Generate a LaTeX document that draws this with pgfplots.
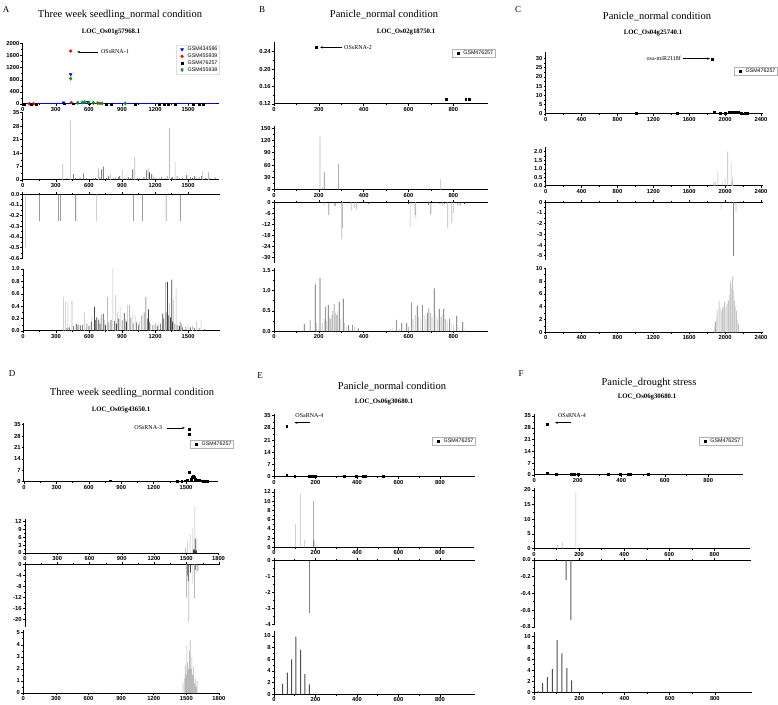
\documentclass[border=0pt]{standalone}
\usepackage{fontspec}
\setmainfont{Liberation Serif}
\setsansfont{Liberation Sans}
\usepackage{pgfplots}
\pgfplotsset{compat=1.18}
\usetikzlibrary{arrows.meta}
\newcommand{\tickfont}{\sffamily\bfseries\fontsize{5.8}{6.5}\selectfont}
\newcommand{\annfont}{\rmfamily\fontsize{6}{7}\selectfont}
\newcommand{\titfont}{\rmfamily\fontsize{10.5}{12}\selectfont}
\newcommand{\subfont}{\rmfamily\bfseries\fontsize{6.8}{8}\selectfont}
\newcommand{\letfont}{\rmfamily\fontsize{9}{10}\selectfont}
\tikzset{arr/.style={-{Stealth[length=3pt,width=2.2pt]}, line width=0.5pt}}
\pgfplotsset{
  org/.style={scale only axis, anchor=south west, clip=false,
    axis line style={line width=1pt},
    tick style={black, line width=0.5pt},
    major tick length=2.2pt, minor tick length=1.3pt, tick align=outside,
    minor x tick num=1, minor y tick num=1,
    tick label style={font=\tickfont, inner sep=1pt},
    /pgf/number format/assume math mode=true,
    /pgf/number format/1000 sep={},
    xticklabel={\pgfmathprintnumber[assume math mode=true]{\tick}},
    yticklabel={\pgfmathprintnumber[assume math mode=true]{\tick}},
    xmin=0},
  bot/.style={org, axis x line*=bottom, axis y line*=left},
  topx/.style={org, axis x line*=top, axis y line*=left, xticklabels={}},
  fixA/.style={yticklabel style={/pgf/number format/.cd, fixed, fixed zerofill, precision=#1}},
  lg/.style={ybar, bar width=0.6pt, bar shift=0pt, draw=none, fill=gray!55},
  dk/.style={ybar, bar width=0.6pt, bar shift=0pt, draw=none, fill=black!75},
  sq/.style={only marks, mark=square*, mark size=0.95pt, black},
  leg/.style={legend style={font=\sffamily\fontsize{5.3}{6}\selectfont, draw=gray!60, line width=0.4pt, inner sep=0.8pt, outer sep=0pt, legend cell align=left, nodes={inner sep=0.8pt}, at={#1}, anchor=north east}, legend image code/.code={\path (0cm,0cm) (0.32cm,0cm); \draw[##1] plot coordinates {(0.16cm,0cm)};}},
}
\begin{document}
\begin{tikzpicture}
\path[use as bounding box] (0pt,0pt) rectangle (778pt,704pt);
% ---------- titles
\node[font=\letfont] at (6pt,694pt) {A};
\node[font=\titfont] at (120pt,689pt) {Three week seedling\_normal condition};
\node[font=\subfont] at (111pt,672pt) {LOC\_Os01g57968.1};
\node[font=\letfont] at (262pt,694pt) {B};
\node[font=\titfont] at (384pt,689pt) {Panicle\_normal condition};
\node[font=\subfont] at (406pt,672pt) {LOC\_Os02g18750.1};
\node[font=\letfont] at (518pt,694pt) {C};
\node[font=\titfont] at (657pt,687pt) {Panicle\_normal condition};
\node[font=\subfont] at (653pt,671pt) {LOC\_Os04g25740.1};
\node[font=\letfont] at (12pt,330pt) {D};
\node[font=\titfont] at (132pt,311pt) {Three week seedling\_normal condition};
\node[font=\subfont] at (121pt,294pt) {LOC\_Os05g43650.1};
\node[font=\letfont] at (260pt,328pt) {E};
\node[font=\titfont] at (392pt,317pt) {Panicle\_normal condition};
\node[font=\subfont] at (384pt,302pt) {LOC\_Os06g30680.1};
\node[font=\letfont] at (521pt,330pt) {F};
\node[font=\titfont] at (649pt,321pt) {Panicle\_drought stress};
\node[font=\subfont] at (647pt,307pt) {LOC\_Os06g30680.1};

% ================= PANEL A
\begin{axis}[bot, at={(22.7pt,600pt)}, width=196.3pt, height=60.5pt, xmax=1780, ymin=0, ymax=2000,
  xtick={0,300,...,1500}, ytick={0,400,...,2000}, leg={(1.0,0.97)}, legend style={draw=gray!25}]
\addplot[blue, line width=1.2pt, forget plot] coordinates {(0,8)(1750,8)};
\addplot[only marks, mark=triangle*, mark options={rotate=180}, blue, mark size=1.7pt] coordinates {(370,40)(435,980)(590,60)};
\addplot[only marks, mark=*, red, mark size=1.4pt] coordinates {(60,10)(100,10)(435,1750)(440,50)(640,30)(700,20)};
\addplot[sq] coordinates {(10,5)(80,5)(120,5)(380,10)(460,10)(600,10)(760,5)(800,5)(1020,5)(1240,5)(1280,5)(1320,5)(1380,5)(1550,5)(1600,5)(1640,5)};
\addplot[only marks, mark=diamond*, green!60!black, mark size=1.7pt] coordinates {(435,840)(500,40)(540,50)(560,60)(600,50)(640,40)(680,30)(720,20)(930,20)};
\legend{GSM434596,GSM455939,GSM476257,GSM455938}
\draw[arr] (axis cs:683,1720) -- (axis cs:493,1720);
\node[anchor=west, font=\annfont, inner sep=1pt] at (axis cs:700,1720) {OSsRNA-1};
\end{axis}
\begin{axis}[bot, at={(22.7pt,524pt)}, width=196.3pt, height=67.3pt, xmax=1780, ymin=0, ymax=35,
  xtick={0,300,...,1500}, ytick={0,7,...,35}]
\addplot[lg] coordinates {(363,8.4)(435,31)(687,6)(798,3)(904,5.5)(944,2.5)(1016,12)(1140,6)(1331,27)(1382,9.5)(1633,4.5)(1685,4)};
\addplot[dk] coordinates {(460,3)(550,3.5)(717,5.5)(732,7)(868,1.5)(998,5.5)(1125,5)(1170,3)(1488,2.5)(1745,1.5)(400,1)(480,1)(500,0.8)(520,1.2)(580,1)(600,0.6)(640,0.8)(660,1)(700,1.5)(760,1)(780,2)(820,1)(840,1.2)(880,2)(920,1)(960,1.5)(980,1)(1040,1.2)(1060,0.8)(1100,1.5)(1150,4)(1190,1.5)(1210,1)(1240,0.8)(1260,1.5)(1290,1)(1310,2)(1350,1)(1360,1.5)(1400,2)(1420,1)(1450,1)(1520,1.5)(1540,1)(1560,2)(1580,1.2)(1600,1.5)(1620,2)(1660,1)(1700,1)};
\end{axis}
\begin{axis}[topx, at={(22.7pt,445.7pt)}, width=197.3pt, height=64pt, xmax=1790, ymin=-0.6, ymax=0,
  xtick={0,300,...,1500}, ytick={-0.6,-0.5,-0.4,-0.3,-0.2,-0.1,0}, fixA=1]
\addplot[lg] coordinates {(27,-0.5)(671,-0.25)};
\addplot[dk, fill=black!60] coordinates {(151,-0.25)(324,-0.25)(342,-0.25)(481,-0.25)(1004,-0.25)(1086,-0.25)(1301,-0.25)(1431,-0.25)};
\end{axis}
\begin{axis}[bot, at={(23pt,373pt)}, width=197pt, height=62pt, xmax=1790, ymin=0, ymax=1.0,
  xtick={0,300,...,1500}, ytick={0,0.2,0.4,0.6,0.8,1.0}, fixA=1]
\addplot[lg] coordinates {(369,0.55)(387,0.47)(408,0.46)(445,0.49)(560,0.3)(626,0.24)(768,0.55)(817,1.0)(841,0.58)(883,0.39)(950,0.42)(968,0.42)(998,0.27)(1019,0.25)(1295,0.79)(1391,0.68)(1579,0.15)(1618,0.17)(700,0.2)(740,0.18)(860,0.3)(930,0.2)(1060,0.15)(1160,0.12)(1230,0.12)(1330,0.45)(1365,0.5)(1440,0.12)(1500,0.1)(1540,0.08)};
\addplot[dk] coordinates {(484,0.12)(650,0.39)(687,0.18)(717,0.27)(732,0.28)(920,0.29)(1116,0.55)(1140,0.35)(1200,0.12)(1270,0.28)(1313,0.79)(1352,0.83)(1428,0.15)(400,0.05)(420,0.06)(460,0.08)(500,0.1)(520,0.09)(540,0.1)(580,0.12)(600,0.08)(620,0.15)(660,0.18)(670,0.22)(700,0.12)(750,0.1)(780,0.14)(800,0.18)(830,0.16)(850,0.12)(870,0.2)(900,0.17)(940,0.15)(980,0.22)(1000,0.12)(1030,0.14)(1050,0.1)(1080,0.25)(1100,0.3)(1130,0.2)(1150,0.15)(1180,0.1)(1220,0.08)(1250,0.12)(1280,0.2)(1300,0.3)(1320,0.25)(1340,0.22)(1360,0.15)(1380,0.12)(1400,0.1)(1420,0.08)(1450,0.06)(1480,0.07)(1520,0.06)(1560,0.05)(1600,0.05)(1650,0.03)};
\end{axis}

% ================= PANEL B
\begin{axis}[bot, at={(274pt,600pt)}, width=214.3pt, height=62.3pt, xmax=956, ymin=0.12, ymax=0.263,
  xtick={0,200,...,800}, ytick={0.12,0.16,0.20,0.24}, fixA=2, leg={(1.03,0.883)}]
\addplot[sq] coordinates {(190,0.25)(770,0.13)(855,0.13)(870,0.13)};
\legend{GSM476257}
\draw[arr] (axis cs:303,0.25) -- (axis cs:205,0.25);
\node[anchor=west, font=\annfont, inner sep=1pt] at (axis cs:308,0.25) {OSsRNA-2};
\end{axis}
\begin{axis}[bot, at={(274pt,514.3pt)}, width=214.3pt, height=63.7pt, xmax=956, ymin=0, ymax=155,
  xtick={0,200,...,800}, ytick={0,30,...,150}]
\addplot[lg] coordinates {(205,130)(743,25)};
\addplot[dk, fill=gray] coordinates {(224,42)(287,62)(215,5)(295,3)};
\end{axis}
\begin{axis}[topx, at={(274pt,441pt)}, width=214.3pt, height=60.7pt, xmax=956, ymin=-32.9, ymax=0,
  xtick={0,200,...,800}, ytick={-30,-24,...,0}]
\addplot[lg] coordinates {(223,-2)(302,-20)(306,-14)(346,-4.5)(358,-3)(369,-4)(607,-13.5)(629,-7)(633,-9)(752,-2)(775,-14)(793,-11)(800,-6)};
\addplot[dk] coordinates {(245,-7)(272,-2)(421,-1)(700,-6.5)(830,-2)(600,-1)(690,-1.5)(740,-1)(760,-1)(820,-1.5)(850,-0.8)(510,-0.5)(160,-0.5)};
\end{axis}
\begin{axis}[bot, at={(274pt,372.7pt)}, width=214.3pt, height=63.3pt, xmax=956, ymin=0, ymax=1.55,
  xtick={0,200,...,800}, ytick={0,0.5,1.0,1.5}, fixA=1]
\addplot[dk, fill=black!65] coordinates {(135,0.18)(161,0.28)(184,1.15)(205,1.3)(230,0.6)(242,0.65)(254,0.3)(268,0.67)(281,0.4)(291,0.72)(309,0.8)(332,0.15)(351,0.15)(376,0.07)(547,0.28)(570,0.2)(592,0.2)(614,0.7)(639,0.63)(662,0.65)(684,0.45)(691,0.57)(715,1.05)(737,0.55)(757,0.55)(782,0.3)(815,0.38)(842,0.23)};
\addplot[lg] coordinates {(190,0.2)(215,0.2)(225,0.3)(235,0.25)(248,0.35)(258,0.4)(262,0.5)(275,0.45)(285,0.5)(298,0.3)(315,0.2)(325,0.1)(340,0.05)(360,0.1)(520,0.05)(530,0.08)(560,0.05)(600,0.1)(620,0.3)(630,0.4)(645,0.35)(655,0.3)(670,0.4)(678,0.3)(698,0.45)(705,0.35)(722,0.4)(730,0.3)(745,0.35)(750,0.4)(765,0.3)(772,0.25)(790,0.2)(800,0.15)(825,0.1)(855,0.05)};
\end{axis}

% ================= PANEL C
\begin{axis}[bot, at={(545.7pt,590pt)}, width=217.6pt, height=62.3pt, xmax=2426, ymin=0, ymax=33.5,
  xtick={0,400,...,2400}, ytick={0,5,...,30}, leg={(1.063,0.754)}]
\addplot[sq] coordinates {(1854,29.6)(1010,0.4)(1470,0.5)(1880,0.9)(1950,0.3)(2000,0.5)(2050,0.9)(2080,0.8)(2110,1.0)(2150,0.8)(2180,0.6)(2220,0.5)(2250,0.4)};
\legend{GSM476257}
\draw[arr] (axis cs:1530,29.8) -- (axis cs:1832,29.8);
\node[anchor=east, font=\annfont, inner sep=1pt] at (axis cs:1520,29.8) {osa-miR2118f};
\end{axis}
\begin{axis}[bot, at={(545.7pt,518pt)}, width=217.6pt, height=39.3pt, xmax=2426, ymin=0, ymax=2.29,
  xtick={0,400,...,2400}, ytick={0,0.5,1.0,1.5,2.0}, fixA=1]
\addplot[lg] coordinates {(1874,0.22)(1890,0.22)(1919,0.9)(1967,0.22)(2000,0.45)(2030,2.0)(2067,1.35)(2078,0.22)(2085,0.45)};
\end{axis}
\begin{axis}[topx, at={(545.7pt,444pt)}, width=217.6pt, height=57.7pt, xmax=2426, ymin=-5.4, ymax=0,
  xtick={0,400,...,2400}, ytick={-5,-4,...,0}]
\addplot[lg] coordinates {(1956,-0.7)(2048,-0.1)(2122,-0.9)};
\addplot[dk, fill=gray] coordinates {(2096,-5.0)};
\end{axis}
\begin{axis}[bot, at={(545.7pt,371.7pt)}, width=217.6pt, height=64pt, xmax=2426, ymin=0, ymax=10,
  xtick={0,400,...,2400}, ytick={0,2,...,10}]
\addplot[lg, fill=gray!70] coordinates {(1874,0.4)(1893,1.7)(1911,3.4)(1933,4.9)(1956,3.5)(1974,3.8)(1996,4.7)(2019,4.3)(2041,5.0)(2063,7.8)(2085,8.7)(2104,5.0)(2126,3.4)(2148,1.3)};
\addplot[dk, fill=gray!40] coordinates {(1884,1)(1902,2.5)(1922,3.8)(1944,4)(1965,3)(1985,4)(2008,4)(2030,4.5)(2052,6)(2074,7)(2095,6.5)(2115,4)(2137,2)};
\end{axis}

% ================= PANEL D
\begin{axis}[bot, at={(24pt,222.3pt)}, width=194.3pt, height=58.7pt, xmax=1799, ymin=0, ymax=36,
  xtick={0,300,...,1800}, ytick={0,7,...,35}, leg={(1.076,0.71)}]
\addplot[sq] coordinates {(1530,32)(1530,29)(1530,6)(800,0.6)(1420,0.5)(1460,0.5)(1490,0.6)(1510,1)(1550,1.5)(1560,3)(1565,3.5)(1570,2.8)(1575,2.5)(1580,2)(1585,1.8)(1590,1.5)(1600,1.2)(1610,1)(1620,0.8)(1640,0.6)(1660,0.5)(1680,0.5)(1700,0.5)};
\legend{GSM476257}
\draw[arr] (axis cs:1320,33) -- (axis cs:1490,33);
\node[anchor=east, font=\annfont, inner sep=1pt] at (axis cs:1290,33) {OSsRNA-3};
\end{axis}
\begin{axis}[bot, at={(25pt,151pt)}, width=193.5pt, height=34pt, xmax=1800, ymin=0, ymax=13,
  xtick={0,300,...,1800}, ytick={0,3,...,12}]
\addplot[lg] coordinates {(1493,1.8)(1511,4.7)(1536,7.3)(1561,9.5)(1580,18)(1599,5.2)};
\addplot[dk] coordinates {(1584,5.5)(1565,1)(1570,1.5)(1575,1.2)(1590,0.8)(1595,1)};
\end{axis}
\begin{axis}[topx, at={(25pt,77pt)}, width=195pt, height=62.7pt, xmax=1810, ymin=-22.8, ymax=0,
  xtick={0,300,...,1800}, ytick={-20,-16,...,0}]
\addplot[lg] coordinates {(1499,-12)(1520,-21)(1558,-7)(1573,-12.5)(1589,-3)};
\addplot[dk] coordinates {(1511,-4)(1536,-3)(1605,-2.5)(1515,-6)(1580,-2)};
\end{axis}
\begin{axis}[bot, at={(23.3pt,11pt)}, width=196.7pt, height=62.7pt, xmax=1810, ymin=0, ymax=5.2,
  xtick={0,300,...,1800}, ytick={0,1,...,5}]
\addplot[lg] coordinates {(1468,0.8)(1490,2.3)(1505,4.0)(1520,2.0)(1536,4.4)(1551,3.0)(1567,2.2)(1582,1.2)(1598,1.0)(1480,1.2)(1497,1.5)(1512,2.5)(1528,3.5)(1543,2)(1559,1.5)(1575,0.8)(1590,0.5)};
\end{axis}

% ================= PANEL E
\begin{axis}[bot, at={(274pt,227.3pt)}, width=201pt, height=62.7pt, xmax=969, ymin=0, ymax=36,
  xtick={0,200,...,800}, ytick={0,7,...,35}, leg={(1.0,0.633)}]
\addplot[sq] coordinates {(61,29)(61,1)(100,0.5)(170,0.5)(185,0.5)(200,0.5)(340,0.4)(395,0.4)(430,0.5)(440,0.5)(525,0.5)};
\legend{GSM476257}
\draw[arr] (axis cs:173,31) -- (axis cs:98,31);
\node[font=\annfont, inner sep=1pt] at (axis cs:171,35.4) {OSaRNA-4};
\end{axis}
\begin{axis}[bot, at={(274pt,156.7pt)}, width=200.3pt, height=58.3pt, xmax=965, ymin=0, ymax=12.6,
  xtick={0,200,...,800}, ytick={0,2,...,12}]
\addplot[lg] coordinates {(104,5)(128,11.6)(146,1.6)};
\addplot[dk, fill=gray] coordinates {(190,10)(193,1.5)};
\end{axis}
\begin{axis}[topx, at={(274pt,79pt)}, width=201pt, height=64.3pt, xmax=969, ymin=-4.05, ymax=0,
  xtick={0,200,...,800}, ytick={-4,-3,...,0}]
\addplot[lg, fill=gray] coordinates {(170,-3.3)};
\end{axis}
\begin{axis}[bot, at={(274pt,9.7pt)}, width=201pt, height=63.6pt, xmax=969, ymin=0, ymax=10.9,
  xtick={0,200,...,800}, ytick={0,2,...,10}]
\addplot[dk, fill=black!70, bar width=1pt] coordinates {(42,1.8)(64,3.7)(85,6.0)(106,9.9)(128,7.6)(149,3.5)(170,1.7)};
\end{axis}

% ================= PANEL F
\begin{axis}[bot, at={(534.3pt,229pt)}, width=209pt, height=60.7pt, xmax=961, ymin=0, ymax=36,
  xtick={0,200,...,800}, ytick={0,7,...,35}, leg={(0.993,0.623)}]
\addplot[sq] coordinates {(61,30)(61,1)(100,0.5)(170,0.5)(185,0.5)(200,0.5)(340,0.4)(395,0.4)(430,0.5)(440,0.5)(525,0.5)};
\legend{GSM476257}
\draw[arr] (axis cs:169,31) -- (axis cs:95,31);
\node[font=\annfont, inner sep=1pt] at (axis cs:173,35.4) {OSsRNA-4};
\end{axis}
\begin{axis}[bot, at={(534pt,155.3pt)}, width=216pt, height=60.8pt, xmax=958, ymin=0, ymax=20.7,
  xtick={0,200,...,800}, ytick={0,5,...,20}]
\addplot[lg] coordinates {(105,1.2)(126,2.1)(186,19.3)(189,0.3)};
\end{axis}
\begin{axis}[topx, at={(534pt,76pt)}, width=217pt, height=68pt, xmax=963, ymin=-0.815, ymax=0,
  xtick={0,200,...,800}, ytick={-0.8,-0.6,-0.4,-0.2,0}, fixA=1]
\addplot[dk, fill=black!65, bar width=1pt] coordinates {(142,-0.24)(164,-0.72)};
\end{axis}
\begin{axis}[bot, at={(534pt,11.3pt)}, width=217.7pt, height=60.8pt, xmax=963, ymin=0, ymax=10.85,
  xtick={0,200,...,800}, ytick={0,2,...,10}]
\addplot[dk, fill=black!70, bar width=1pt] coordinates {(18,0.3)(38,1.7)(59,2.8)(81,4.2)(102,9.4)(123,7.0)(145,4.4)(166,2.2)};
\end{axis}
\end{tikzpicture}
\end{document}
